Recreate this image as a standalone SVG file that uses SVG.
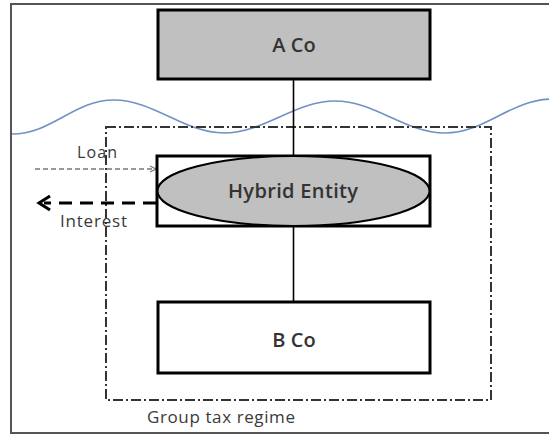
<svg xmlns="http://www.w3.org/2000/svg" width="549" height="436" viewBox="0 0 549 436">
<style>
.lbl{font-family:"Open Sans","Liberation Sans",sans-serif;fill:#3a3a3a}
.node{font-weight:600;fill:#333}
.box{stroke:#000;stroke-width:3}
.conn{stroke:#000;stroke-width:1.6;fill:none}
</style>
<defs>
<marker id="loanHead" markerWidth="8" markerHeight="8" refX="7" refY="4" orient="auto" markerUnits="userSpaceOnUse">
<path d="M1,1 L7,4 L1,7" fill="none" stroke="#777" stroke-width="1.2"/>
</marker>
</defs>
<rect width="549" height="436" fill="#fff"/>
<g id="frame">
<path d="M551,4 H11 V433 H551" fill="none" stroke="#555" stroke-width="2"/>
</g>
<g id="wave">
<path d="M12,134 C52,134 74,100 114,100 C154,100 184,133 224,133 C264,133 295,101 335,101 C375,101 405,133 445,133 C485,133 510,100 551,99" fill="none" stroke="#7191c4" stroke-width="1.6"/>
</g>
<g id="group-tax-regime">
<rect x="106" y="127" width="385" height="273" fill="none" stroke="#333" stroke-width="2" stroke-dasharray="10,3,2,3"/>
<text class="lbl" x="147" y="423" font-size="17" textLength="148" lengthAdjust="spacing">Group tax regime</text>
</g>
<g id="connectors">
<line class="conn" x1="293.5" y1="79" x2="293.5" y2="156"/>
<line class="conn" x1="293.5" y1="226" x2="293.5" y2="302"/>
<line x1="35" y1="169" x2="156" y2="169" stroke="#777" stroke-width="1.3" stroke-dasharray="5,3" marker-end="url(#loanHead)"/>
<text class="lbl" x="77" y="158" font-size="16" textLength="40" lengthAdjust="spacing">Loan</text>
<line x1="156" y1="203" x2="44" y2="203" stroke="#000" stroke-width="3" stroke-dasharray="13,8"/>
<path d="M50,196 L39,203 L50,210" fill="none" stroke="#000" stroke-width="3"/>
<text class="lbl" x="60" y="227" font-size="17" textLength="67" lengthAdjust="spacing">Interest</text>
</g>
<g id="a-co">
<rect class="box" x="158" y="10" width="272" height="69" fill="#c0c0c0"/>
<text class="lbl node" x="294" y="52" font-size="20" text-anchor="middle">A Co</text>
</g>
<g id="hybrid-entity">
<rect class="box" x="157" y="156" width="273" height="70" fill="#fff"/>
<ellipse cx="293.5" cy="191" rx="136" ry="35" fill="#c0c0c0" stroke="#000" stroke-width="2"/>
<text class="lbl node" x="228" y="198" font-size="20" textLength="130" lengthAdjust="spacing">Hybrid Entity</text>
</g>
<g id="b-co">
<rect class="box" x="158" y="302" width="272" height="71" fill="#fff"/>
<text class="lbl node" x="294" y="347" font-size="20" text-anchor="middle">B Co</text>
</g>
</svg>
